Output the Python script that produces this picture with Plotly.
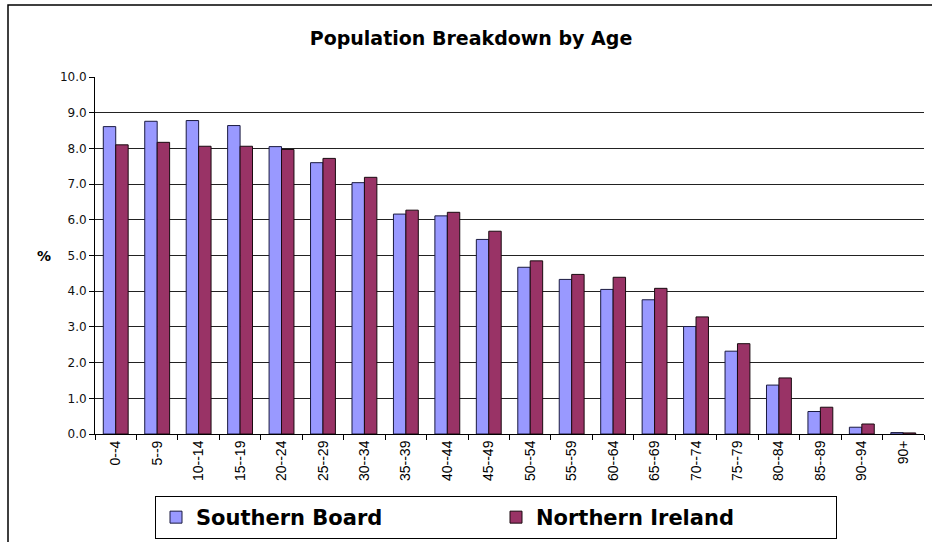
import plotly.graph_objects as go

age_groups = ["0--4", "5--9", "10--14", "15--19", "20--24", "25--29", "30--34", "35--39",
              "40--44", "45--49", "50--54", "55--59", "60--64", "65--69", "70--74", "75--79",
              "80--84", "85--89", "90--94", "90+"]
southern_board = [8.61, 8.76, 8.78, 8.64, 8.05, 7.60, 7.04, 6.16, 6.11, 5.45,
                  4.67, 4.33, 4.05, 3.76, 3.01, 2.32, 1.37, 0.63, 0.19, 0.04]
northern_ireland = [8.10, 8.17, 8.06, 8.06, 7.97, 7.72, 7.19, 6.27, 6.21, 5.68,
                    4.85, 4.47, 4.39, 4.08, 3.28, 2.53, 1.57, 0.75, 0.28, 0.03]
y_ticks = [0, 1, 2, 3, 4, 5, 6, 7, 8, 9, 10]

W, H = 932, 542
L, R, T, B = 95, 8, 77, 108
pw, ph = W - L - R, H - T - B

def px(x):
    return (x - L) / pw

def py(y):
    return (H - B - y) / ph

fig = go.Figure()
fig.add_trace(go.Bar(x=age_groups, y=southern_board, name="<b>Southern Board</b>",
                     marker=dict(color="#9999FF", line=dict(color="#1a1a40", width=1))))
fig.add_trace(go.Bar(x=age_groups, y=northern_ireland, name="<b>Northern Ireland</b>",
                     marker=dict(color="#993366", line=dict(color="#1a0a10", width=1))))

fig.update_layout(
    width=W, height=H,
    margin=dict(l=L, r=R, t=T, b=B, autoexpand=False),
    paper_bgcolor="white", plot_bgcolor="white",
    barmode="group", bargap=0.40, bargroupgap=0,
    font=dict(family="Arial, Liberation Sans, sans-serif", color="black"),
    title=dict(text="<b>Population Breakdown by Age</b>",
               font=dict(family="DejaVu Sans", size=19, color="black"),
               x=471 / W, xanchor="center", xref="container",
               y=1 - 38 / H, yanchor="middle", yref="container"),
    showlegend=True,
    legend=dict(orientation="h", x=px(496), xanchor="center", y=py(496), yanchor="top",
                bordercolor="black", borderwidth=1, bgcolor="white",
                font=dict(family="DejaVu Sans", size=21, color="black"),
                itemwidth=30, tracegroupgap=0, entrywidth=295, entrywidthmode="pixels"),
    shapes=[dict(type="rect", xref="paper", yref="paper",
                 x0=px(8), x1=px(945), y0=py(560), y1=py(5),
                 line=dict(color="black", width=1.5), fillcolor="rgba(0,0,0,0)", layer="below")],
    annotations=[dict(text="<b>%</b>", xref="paper", yref="paper", x=px(44), y=py(256),
                      xanchor="center", yanchor="middle", showarrow=False,
                      font=dict(family="DejaVu Sans", size=14, color="black"))],
)

fig.update_yaxes(range=[0, 10], tickvals=y_ticks, tickformat=".1f", automargin=False,
                 showgrid=True, gridcolor="#222222", gridwidth=1,
                 showline=True, linecolor="black", linewidth=1,
                 ticks="outside", ticklen=5, tickcolor="black",
                 tickfont=dict(family="DejaVu Sans", size=12, color="#111111"),
                 zeroline=False)
fig.update_xaxes(showline=True, linecolor="black", linewidth=1, automargin=False,
                 ticks="outside", ticklen=5, tickcolor="black", tickson="boundaries",
                 tickangle=-90, tickfont=dict(family="Arial, Liberation Sans", size=14, color="black"),
                 showgrid=False)

fig.write_html("out.html", config={"displayModeBar": False},
               post_script="document.body.style.margin='0';")
